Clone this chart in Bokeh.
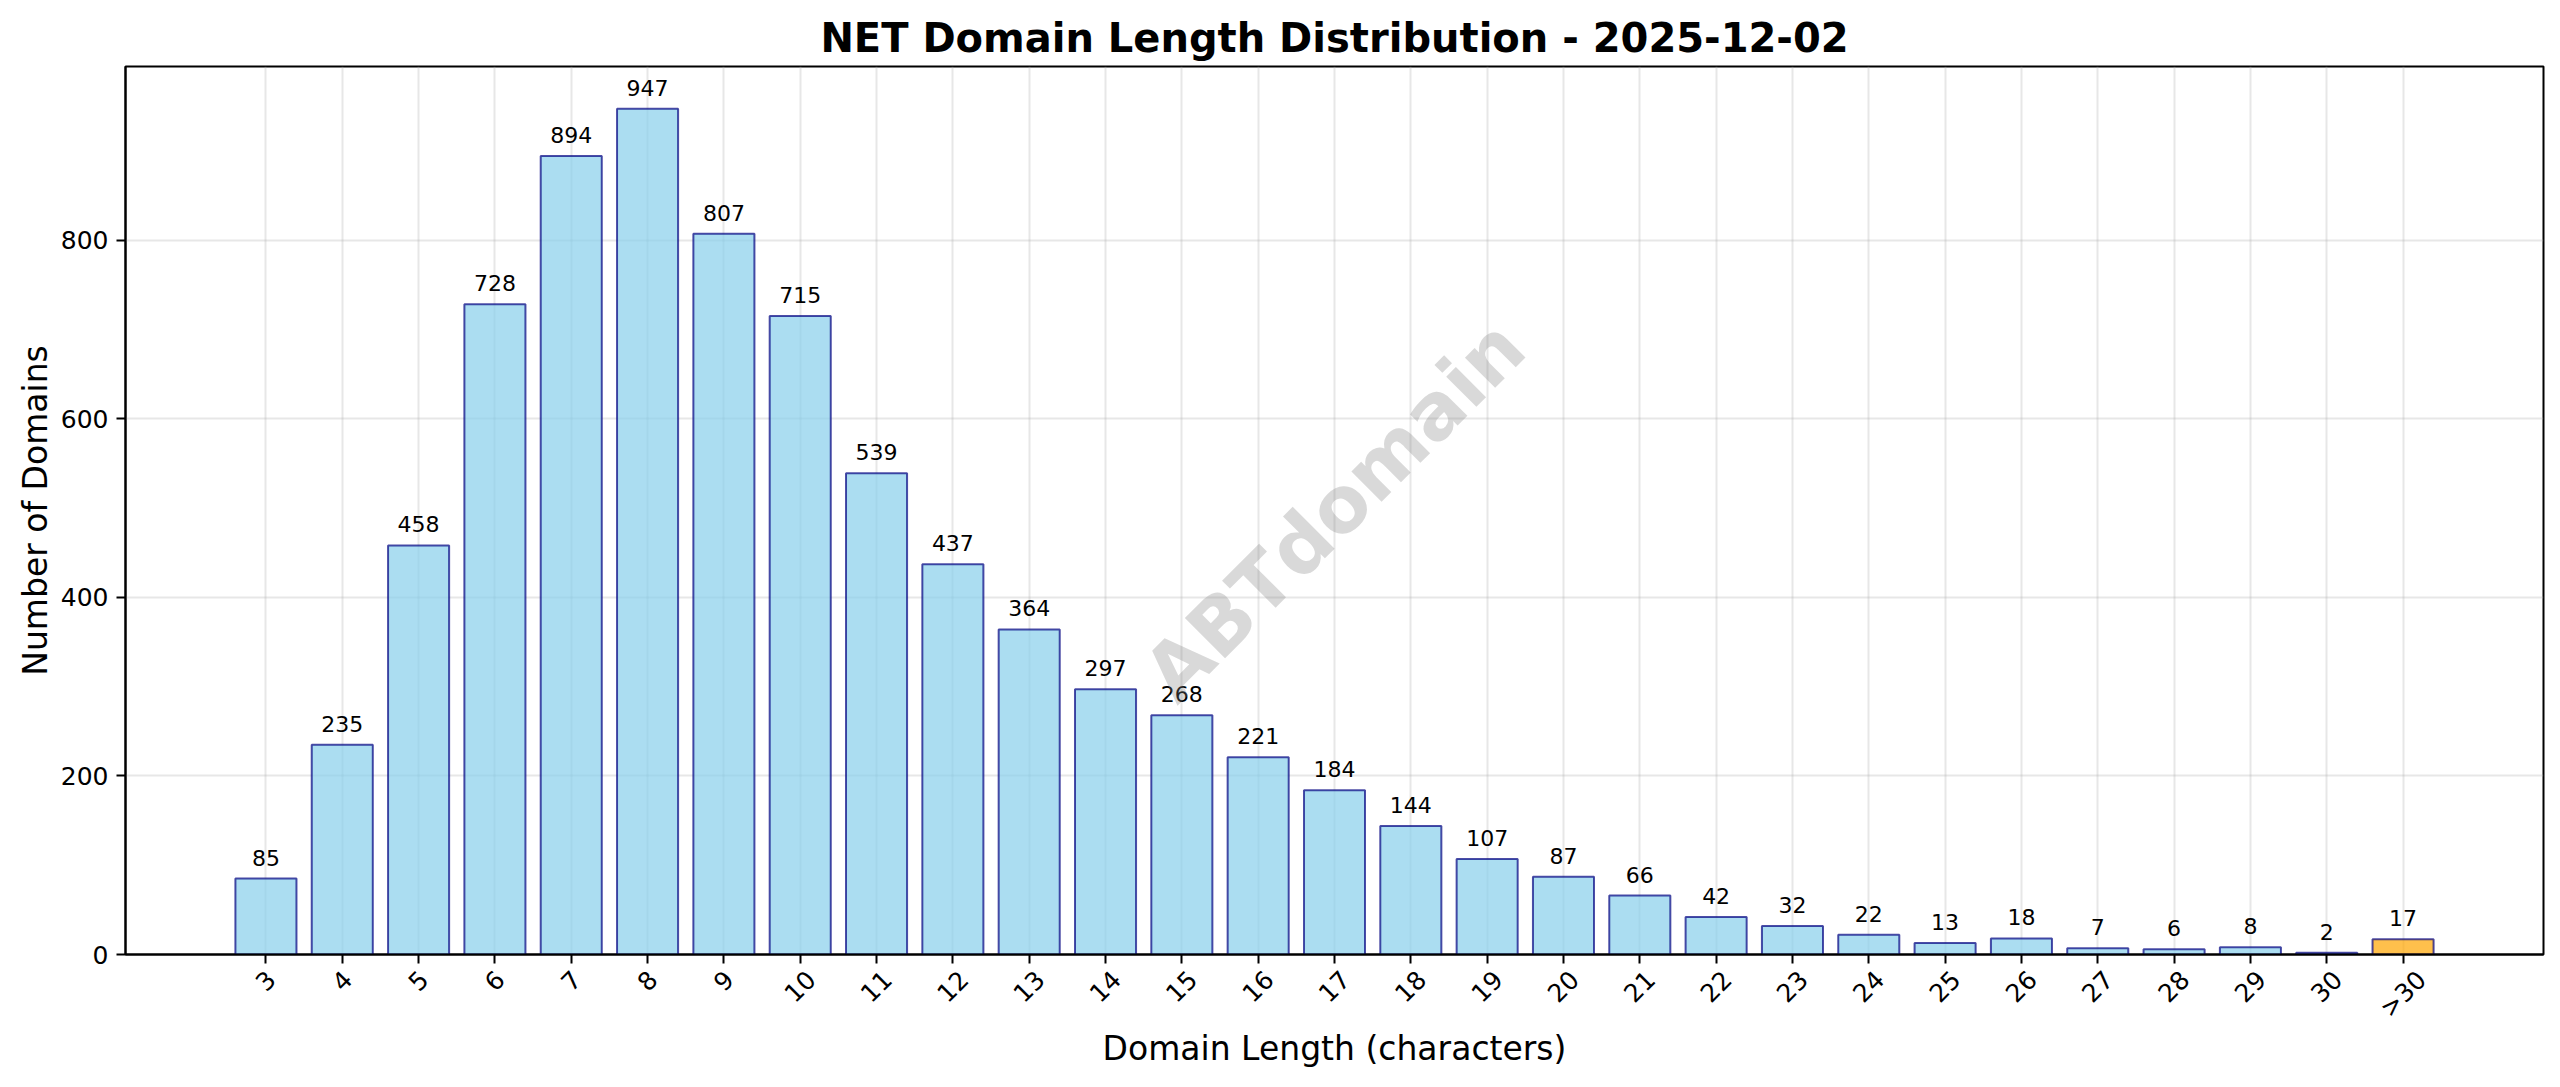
import math
from bokeh.plotting import figure
from bokeh.models import (ColumnDataSource, Range1d, FixedTicker, Label, LabelSet,
                          LinearAxis)
from bokeh.core.properties import value
from bokeh.embed import file_html
from bokeh.resources import INLINE

# ---- data ----
categories = [str(i) for i in range(3, 31)] + [">30"]
counts = [85, 235, 458, 728, 894, 947, 807, 715, 539, 437, 364, 297, 268, 221,
          184, 144, 107, 87, 66, 42, 32, 22, 13, 18, 7, 6, 8, 2, 17]
bar_colors = ["skyblue"] * 28 + ["orange"]
y_ticks = [0, 200, 400, 600, 800]
title_text = "NET Domain Length Distribution - 2025-12-02"
x_label = "Domain Length (characters)"
y_label = "Number of Domains"
watermark = "ABTdomain"

FONT = "DejaVu Sans"
TICK_PX = 25
FRAME_W, FRAME_H = 2418, 888

n = len(categories)
xs = list(range(n))
ymax = max(counts) * 1.05
x0, x1 = -0.4 - 0.05 * (n - 1 + 0.8), (n - 1) + 0.4 + 0.05 * (n - 1 + 0.8)
px_per_unit = FRAME_W / (x1 - x0)


def text_width(s):
    # approximate DejaVu Sans advance widths (em)
    return sum(0.838 if ch == ">" else 0.636 for ch in s) * TICK_PX


# Bokeh anchors rotated labels at their end; shift so each label is centred on its tick
label_pos = [round(x + text_width(c) * 0.354 / px_per_unit, 6)
             for x, c in zip(xs, categories)]

src = ColumnDataSource(dict(x=xs, count=counts, color=bar_colors,
                            label=[str(c) for c in counts]))

p = figure(frame_width=FRAME_W, frame_height=FRAME_H, output_backend="svg",
           toolbar_location=None,
           x_range=Range1d(x0, x1), y_range=Range1d(0, ymax),
           min_border_left=125, min_border_right=12, min_border_top=66,
           min_border_bottom=110, background_fill_color="white",
           border_fill_color="white")

p.title.text = title_text
p.title.text_font = FONT
p.title.text_font_size = "40px"
p.title.text_font_style = "bold"
p.title.text_color = "black"
p.title.align = "center"
p.title.standoff = 12

p.vbar(x="x", top="count", width=0.8, source=src, fill_color="color",
       fill_alpha=0.7, line_color="navy", line_alpha=0.7, line_width=2)

p.add_layout(LabelSet(x="x", y="count", text="label", source=src,
                      text_align="center", text_baseline="alphabetic",
                      y_offset=13, text_font=value(FONT),
                      text_font_size="22px", text_color="black"))

p.add_layout(Label(x=(x0 + x1) / 2, y=ymax / 2, text=watermark,
                   angle=math.pi / 4, text_align="center", text_baseline="middle",
                   text_font=FONT, text_font_size="78px", text_font_style="bold",
                   text_color="gray", text_alpha=0.3))

# axes
p.xaxis.ticker = FixedTicker(ticks=xs)
p.xaxis.major_label_overrides = {i: "" for i in xs}
p.xaxis.major_label_standoff = 0
p.yaxis.ticker = FixedTicker(ticks=y_ticks)
p.yaxis.axis_label = y_label
p.yaxis.major_label_standoff = 8
p.yaxis.axis_label_standoff = 3

# label-only axis carrying the rotated category names and the x title
lab_axis = LinearAxis(ticker=FixedTicker(ticks=label_pos),
                      major_label_overrides={v: c for v, c in zip(label_pos, categories)},
                      major_label_orientation=math.pi / 4,
                      axis_line_color=None, major_tick_line_color=None,
                      minor_tick_line_color=None, major_label_standoff=6,
                      axis_label=x_label, axis_label_standoff=-7)
p.add_layout(lab_axis, "below")

for ax in (p.xaxis[0], p.yaxis[0], lab_axis):
    ax.axis_label_text_font = FONT
    ax.axis_label_text_font_size = "33px"
    ax.axis_label_text_font_style = "normal"
    ax.axis_label_text_color = "black"
    ax.major_label_text_font = FONT
    ax.major_label_text_font_size = f"{TICK_PX}px"
    ax.major_label_text_color = "black"
p.xaxis[0].major_label_text_font_size = "0px"
for ax in (p.xaxis[0], p.yaxis[0]):
    ax.axis_line_color = "black"
    ax.axis_line_width = 2
    ax.major_tick_line_color = "black"
    ax.major_tick_line_width = 2
    ax.major_tick_out = 9
    ax.major_tick_in = 0
    ax.minor_tick_line_color = None

p.xgrid.ticker = FixedTicker(ticks=xs)
p.ygrid.ticker = FixedTicker(ticks=y_ticks)
for g in (p.xgrid, p.ygrid):
    g.grid_line_color = "#b0b0b0"
    g.grid_line_alpha = 0.3
    g.grid_line_width = 2

p.outline_line_color = "black"
p.outline_line_width = 2
p.outline_line_alpha = 1.0

open("out.html", "w").write(file_html(p, INLINE))
